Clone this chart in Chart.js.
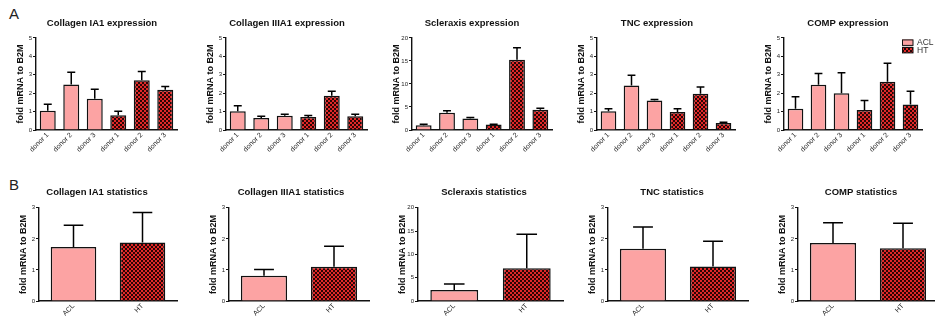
<!DOCTYPE html>
<html><head><meta charset="utf-8">
<script src="https://cdn.jsdelivr.net/npm/chart.js@4"></script>
<style>
html,body{margin:0;padding:0;background:#fff;width:935px;height:322px;overflow:hidden;font-family:"Liberation Sans",Arial,sans-serif;}
.pane{position:absolute;}
.letter{position:absolute;font-size:15px;color:#222;}
</style></head><body>
<div class="letter" style="left:9px;top:5px;">A</div>
<div class="letter" style="left:9px;top:176px;">B</div>
<script>
// ---------- data ----------
const donorLabels = ['donor 1','donor 2','donor 3','donor 1','donor 2','donor 3'];
const donorGroups = ['ACL','ACL','ACL','HT','HT','HT'];
const statLabels = ['ACL','HT'];
const statGroups = ['ACL','HT'];
const legendGroups = ['ACL','HT'];

const col1aExpr    = [1.05, 2.47, 1.70, 0.80, 2.70, 2.19];
const col1aExprErr = [0.35, 0.66, 0.51, 0.22, 0.47, 0.17];
const col3aExpr    = [1.02, 0.65, 0.77, 0.71, 1.86, 0.75];
const col3aExprErr = [0.29, 0.09, 0.08, 0.08, 0.25, 0.10];
const sclxExpr     = [1.05, 3.75, 2.50, 1.20, 15.25, 4.40];
const sclxExprErr  = [0.18, 0.45, 0.22, 0.05, 2.60, 0.30];
const tncExpr      = [1.02, 2.42, 1.60, 0.98, 1.97, 0.38];
const tncExprErr   = [0.14, 0.55, 0.06, 0.18, 0.36, 0.04];
const compExpr     = [1.15, 2.45, 1.99, 1.09, 2.62, 1.38];
const compExprErr  = [0.66, 0.62, 1.12, 0.51, 1.00, 0.72];

const col1aStat    = [1.74, 1.88];
const col1aStatErr = [0.70, 0.97];
const col3aStat    = [0.81, 1.10];
const col3aStatErr = [0.20, 0.66];
const sclxStat     = [2.38, 7.05];
const sclxStatErr  = [1.27, 7.25];
const tncStat      = [1.68, 1.11];
const tncStatErr   = [0.70, 0.81];
const compStat     = [1.87, 1.70];
const compStatErr  = [0.65, 0.80];

const yTicksSmall = [0,1,2,3,4,5];
const yTicksStat  = [0,1,2,3];
const yTicksSclx  = [0,5,10,15,20];

// ---------- styles ----------
const FONT = '"Liberation Sans", Arial, sans-serif';
const ACL_COLOR = '#fca3a3';
function makePattern(){
  const c = document.createElement('canvas'); c.width = 4; c.height = 4;
  const g = c.getContext('2d');
  g.fillStyle = '#2a0505'; g.fillRect(0,0,4,4);
  g.fillStyle = '#e02828'; g.fillRect(0,0,2,2); g.fillRect(2,2,2,2);
  return g.createPattern(c,'repeat');
}
const HT_FILL = makePattern();
const fillFor = g => g === 'ACL' ? ACL_COLOR : HT_FILL;

const errorBars = {
  id:'errorBars',
  afterDatasetsDraw(chart, args, opts){
    const ctx = chart.ctx, y = chart.scales.y;
    chart.data.datasets.forEach((ds, di) => {
      const meta = chart.getDatasetMeta(di);
      meta.data.forEach((bar, i) => {
        const v = ds.data[i], e = ds.errors[i];
        if (v == null) return;
        const yTop = y.getPixelForValue(v + e);
        const half = bar.width * opts.capFrac / 2;
        ctx.save();
        ctx.strokeStyle = '#000'; ctx.lineWidth = 1.5;
        ctx.beginPath();
        ctx.moveTo(bar.x, bar.y); ctx.lineTo(bar.x, yTop);
        ctx.moveTo(bar.x - half, yTop); ctx.lineTo(bar.x + half, yTop);
        ctx.stroke(); ctx.restore();
      });
    });
  }
};

// small group legend drawn in the chart's top-right corner
const groupLegend = {
  id:'groupLegend',
  afterDraw(chart, args, opts){
    if (!opts.show) return;
    const ctx = chart.ctx, a = chart.chartArea;
    let x = a.right - 20, y = a.top + 1.5;
    ctx.save();
    ctx.font = '8.5px ' + FONT;
    ctx.textBaseline = 'middle';
    legendGroups.forEach(g => {
      ctx.fillStyle = fillFor(g);
      ctx.fillRect(x, y, 11, 6);
      ctx.strokeStyle = '#111'; ctx.lineWidth = 1;
      ctx.strokeRect(x + 0.5, y + 0.5, 10.5, 5.5);
      ctx.fillStyle = '#333';
      ctx.fillText(g, x + 15, y + 3.5);
      y += 7.5;
    });
    ctx.restore();
  }
};

// ---------- layout: [axisX, axisEnd, titleCenter] ----------
const rowA = {top:0, height:170, xH:40, padTop:17.3, padBot:9.2, barPct:0.68, capFrac:0.5, labelSize:7};
const rowB = {top:170, height:152, xH:21, padTop:17, padBot:9.4, barPct:0.66, capFrac:0.43, labelSize:7};
const YW = 26;

function makeChart(row, geo, title, labels, groups, values, errs, ticks, showLegend){
  const [axisX, axisEnd, titleC] = geo;
  const left = axisX - YW;
  const width = Math.round(2*(titleC - left));
  const padRight = Math.max(0, (left + width) - axisEnd);
  const div = document.createElement('div');
  div.className = 'pane';
  div.style.left = left + 'px'; div.style.top = row.top + 'px';
  div.style.width = width + 'px'; div.style.height = row.height + 'px';
  const cv = document.createElement('canvas');
  cv.width = width; cv.height = row.height;
  div.appendChild(cv); document.body.appendChild(div);
  const maxV = ticks[ticks.length-1], step = ticks[1]-ticks[0];
  new Chart(cv, {
    type:'bar',
    data:{ labels, datasets:[{
      data: values, errors: errs,
      backgroundColor: groups.map(fillFor),
      borderColor:'#111', borderWidth:1.5,
      barPercentage: row.barPct, categoryPercentage: 1
    }]},
    options:{
      responsive:false, animation:false, devicePixelRatio:1,
      layout:{padding:0},
      plugins:{
        legend:{display:false}, tooltip:{enabled:false},
        title:{display:true, text:title, color:'#111',
          font:{family:FONT, size:9.5, weight:'bold'},
          padding:{top:row.padTop, bottom:row.padBot}},
        errorBars:{capFrac:row.capFrac},
        groupLegend:{show:!!showLegend}
      },
      scales:{
        x:{
          grid:{display:false, drawTicks:false, tickLength:0},
          border:{display:true, color:'#111', width:1.4},
          ticks:{autoSkip:false, minRotation:45, maxRotation:45, padding:1,
            color:'#1a1a1a', font:{family:FONT, size:row.labelSize}},
          afterFit: s => { s.height = row.xH; }
        },
        y:{
          min:0, max:maxV,
          afterBuildTicks: s => { s.ticks = ticks.map(v => ({value:v})); },
          grid:{display:true, drawOnChartArea:false, drawTicks:true, tickLength:3, color:'#111', lineWidth:1},
          border:{display:true, color:'#111', width:1.4},
          ticks:{stepSize:step, padding:1, color:'#222', font:{family:FONT, size:6}},
          title:{display:true, text:'fold mRNA to B2M', color:'#111',
            font:{family:FONT, size:9, weight:'bold'}, padding:{top:5.6, bottom:0}},
          afterFit: s => { s.width = YW; }
        },
        spacer:{
          type:'linear', position:'right', display:true,
          grid:{display:false}, border:{display:false},
          ticks:{display:false}, title:{display:false},
          afterFit: s => { s.width = padRight; }
        }
      }
    },
    plugins:[errorBars, groupLegend]
  });
}

makeChart(rowA, [36,177,102],  'Collagen IA1 expression',  donorLabels, donorGroups, col1aExpr, col1aExprErr, yTicksSmall);
makeChart(rowA, [226,367,287], 'Collagen IIIA1 expression',donorLabels, donorGroups, col3aExpr, col3aExprErr, yTicksSmall);
makeChart(rowA, [412,552,472], 'Scleraxis expression',     donorLabels, donorGroups, sclxExpr,  sclxExprErr,  yTicksSclx);
makeChart(rowA, [597,735,657], 'TNC expression',           donorLabels, donorGroups, tncExpr,   tncExprErr,   yTicksSmall);
makeChart(rowA, [784,922,848], 'COMP expression',          donorLabels, donorGroups, compExpr,  compExprErr,  yTicksSmall, true);

makeChart(rowB, [39,177,97],   'Collagen IA1 statistics',  statLabels, statGroups, col1aStat, col1aStatErr, yTicksStat);
makeChart(rowB, [229,369,291], 'Collagen IIIA1 statistics',statLabels, statGroups, col3aStat, col3aStatErr, yTicksStat);
makeChart(rowB, [418,563,484], 'Scleraxis statistics',     statLabels, statGroups, sclxStat,  sclxStatErr,  yTicksSclx);
makeChart(rowB, [608,748,672], 'TNC statistics',           statLabels, statGroups, tncStat,   tncStatErr,   yTicksStat);
makeChart(rowB, [798,938,861], 'COMP statistics',          statLabels, statGroups, compStat,  compStatErr,  yTicksStat);
</script>
</body></html>
